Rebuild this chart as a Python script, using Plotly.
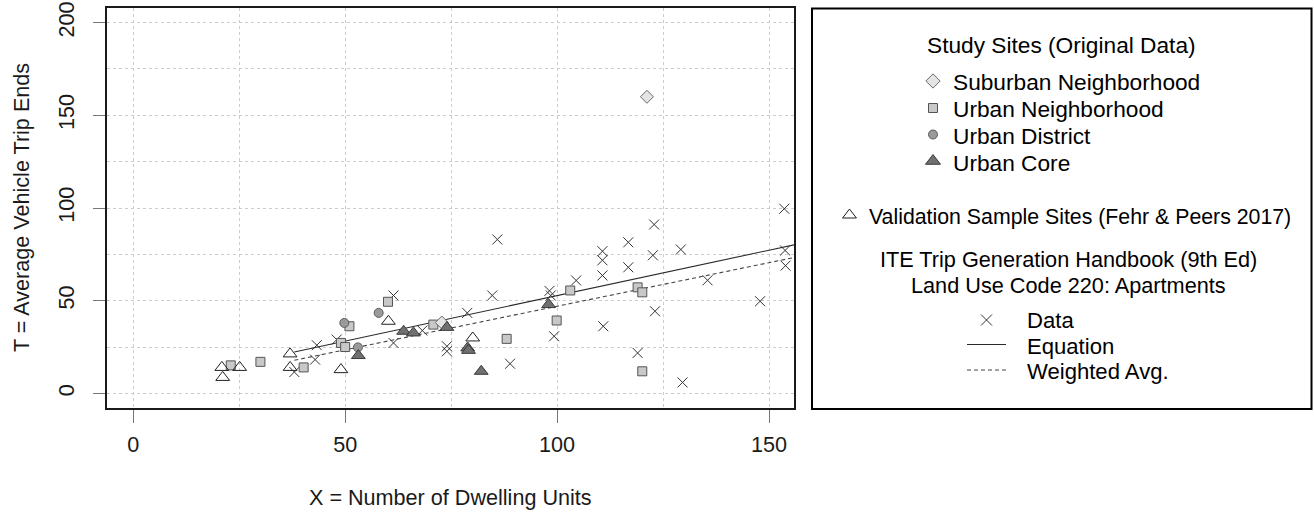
import plotly.graph_objects as go

# ---------------- data ----------------
# ITE Trip Generation Handbook data points (X = dwelling units, T = trips)
ite_x = [38.0, 43.3, 42.9, 48.0, 61.4, 61.4, 68.2, 74.0, 74.0, 78.8, 84.7, 85.9,
         88.9, 98.2, 98.5, 99.3, 104.5, 110.7, 110.7, 110.7, 110.9, 116.8, 116.8,
         119.0, 122.9, 122.6, 123.1, 129.2, 129.6, 135.5, 147.9, 153.6, 153.8, 153.9]
ite_y = [11.5, 26.0, 18.2, 29.0, 52.8, 27.2, 33.9, 25.4, 22.7, 43.4, 52.8, 83.0,
         16.0, 55.3, 52.8, 30.8, 60.9, 76.7, 71.8, 63.6, 36.2, 81.5, 68.0,
         21.8, 91.1, 74.5, 44.3, 77.6, 5.9, 61.0, 49.7, 99.6, 77.1, 68.9]

# Study sites
sub_x = [72.8, 121.2]
sub_y = [38.2, 160.0]
un_x = [23.0, 30.0, 40.2, 49.0, 50.0, 51.0, 60.1, 70.8, 88.1, 99.9, 103.1, 119.0, 120.1, 120.1]
un_y = [15.1, 17.0, 14.0, 27.2, 25.0, 36.2, 49.4, 37.1, 29.4, 39.3, 55.5, 57.2, 54.5, 11.9]
ud_x = [49.8, 53.0, 57.9]
ud_y = [38.0, 24.8, 43.4]
uc_x = [53.1, 63.8, 66.1, 74.0, 78.9, 79.1, 82.1, 98.0]
uc_y = [20.4, 33.5, 32.6, 35.6, 24.5, 23.2, 11.9, 47.9]

# Validation sample sites (Fehr & Peers 2017)
val_x = [20.9, 21.1, 25.1, 37.0, 37.0, 49.0, 60.2, 80.1]
val_y = [14.0, 8.6, 14.0, 21.3, 14.0, 12.8, 38.9, 29.9]

# ITE fitted equation and weighted average rate
eq_slope, eq_intercept = 0.49, 3.73
wavg_rate = 0.47
line_x = [38, 160]

x_ticks = [0, 50, 100, 150]
y_ticks = [0, 50, 100, 150, 200]

# ---------------- layout constants ----------------
W, H = 1314, 514
PL, PR, PT, PB = 107, 794, 8, 408
FONT = "Liberation Sans, Arial, sans-serif"
FS = 21.6

C_CROSS = "#333333"
C_SQ = "#c8c8c8"
C_CIR = "#9a9a9a"
C_CORE = "#707070"
C_DIA = "#e4e4e4"

MK_CROSS = dict(symbol="x-thin-open", size=10, color=C_CROSS, line=dict(color=C_CROSS, width=1))
MK_SQ = dict(symbol="square", size=9, color=C_SQ, line=dict(color="#555555", width=1))
MK_DIA = dict(symbol="diamond", size=10, color=C_DIA, line=dict(color="#6a6a6a", width=1))
MK_CIR = dict(symbol="circle", size=9, color=C_CIR, line=dict(color="#5a5a5a", width=1))
MK_CORE = dict(symbol="triangle-up", size=12, color=C_CORE, line=dict(color="#3a3a3a", width=1))
MK_VAL = dict(symbol="triangle-up-open", size=12, color="#222222", line=dict(color="#222222", width=1))

fig = go.Figure()

# ---------------- main plot ----------------
fig.add_trace(go.Scatter(x=ite_x, y=ite_y, mode="markers", marker=MK_CROSS))
fig.add_trace(go.Scatter(x=line_x, y=[eq_slope * v + eq_intercept for v in line_x],
                         mode="lines", line=dict(color="#2a2a2a", width=1.1)))
fig.add_trace(go.Scatter(x=line_x, y=[wavg_rate * v for v in line_x],
                         mode="lines", line=dict(color="#444444", width=1.1, dash="4px,3px")))
fig.add_trace(go.Scatter(x=un_x, y=un_y, mode="markers", marker=MK_SQ))
fig.add_trace(go.Scatter(x=sub_x, y=sub_y, mode="markers", marker=MK_DIA))
fig.add_trace(go.Scatter(x=ud_x, y=ud_y, mode="markers", marker=MK_CIR))
fig.add_trace(go.Scatter(x=uc_x, y=uc_y, mode="markers", marker=MK_CORE))
fig.add_trace(go.Scatter(x=val_x, y=val_y, mode="markers", marker=MK_VAL))

grid = dict(gridcolor="#cccccc", griddash="dot", gridwidth=1)
axis_common = dict(showline=True, mirror=True, linecolor="#1a1a1a", linewidth=1.5,
                   ticks="outside", tickcolor="#777777", tickwidth=1,
                   zeroline=False, showgrid=True, automargin=False, **grid,
                   tickfont=dict(family=FONT, size=FS, color="#1a1a1a"))

fig.update_layout(
    width=W, height=H, margin=dict(l=0, r=0, t=0, b=0, pad=0, autoexpand=False),
    paper_bgcolor="white", plot_bgcolor="rgba(0,0,0,0)", showlegend=False,
    font=dict(family=FONT, size=FS, color="#1a1a1a"),
    xaxis=dict(domain=[PL / W, PR / W], range=[-6.2, 155.9], tickmode="array",
               tickvals=x_ticks, ticktext=[str(v) for v in x_ticks], ticklen=13,
               ticklabelstandoff=3,
               minor=dict(tickmode="linear", tick0=0, dtick=25, showgrid=True, **grid),
               **axis_common),
    yaxis=dict(domain=[1 - PB / H, 1 - PT / H], range=[-7.9, 207.9], tickmode="array",
               tickvals=y_ticks, ticktext=[str(v) for v in y_ticks], ticklen=12,
               tickangle=-90, ticklabelstandoff=11,
               minor=dict(tickmode="linear", tick0=0, dtick=25, showgrid=True, **grid),
               **axis_common),
    # pixel-coordinate overlay axes used for the hand-built legend
    xaxis2=dict(domain=[0, 1], range=[0, W], visible=False, anchor="y2",
                fixedrange=True, automargin=False),
    yaxis2=dict(domain=[0, 1], range=[H, 0], visible=False, anchor="x2",
                fixedrange=True, automargin=False),
)

# axis titles
fig.add_annotation(text="X = Number of Dwelling Units", xref="paper", yref="paper",
                   x=(PL + PR) / 2 / W, y=1 - 497 / H, xanchor="center", yanchor="middle",
                   showarrow=False, font=dict(family=FONT, size=FS, color="#1a1a1a"))
fig.add_annotation(text="T = Average Vehicle Trip Ends", xref="paper", yref="paper",
                   x=21 / W, y=1 - (PT + PB) / 2 / H, xanchor="center", yanchor="middle",
                   textangle=-90, showarrow=False,
                   font=dict(family=FONT, size=FS, color="#1a1a1a"))

# ---------------- legend (built in pixel coordinates) ----------------
fig.add_shape(type="rect", xref="x2", yref="y2", x0=812, x1=1311.5, y0=8.5, y1=409,
              line=dict(color="#000000", width=2), fillcolor="rgba(0,0,0,0)")

def leg_text(txt, x, y, size, anchor="left"):
    fig.add_annotation(text=txt, xref="x2", yref="y2", x=x, y=y, xanchor=anchor,
                       yanchor="middle", showarrow=False,
                       font=dict(family=FONT, size=size, color="#000000"))

def leg_marker(x, y, mk):
    fig.add_trace(go.Scatter(x=[x], y=[y], xaxis="x2", yaxis="y2", mode="markers",
                             marker=mk, hoverinfo="skip", cliponaxis=False))

S1, S2, S3, S4 = 22.7, 21.3, 21.7, 22.1
leg_text("Study Sites (Original Data)", 1061, 45, S1, "center")
leg_marker(933, 81, dict(MK_DIA, size=11))
leg_text("Suburban Neighborhood", 951, 81.5, S1)
leg_marker(933, 108, MK_SQ)
leg_text("Urban Neighborhood", 951, 108.5, S1)
leg_marker(933, 134.5, MK_CIR)
leg_text("Urban District", 951, 135.5, S1)
leg_marker(933, 161, dict(MK_CORE, size=13))
leg_text("Urban Core", 951, 162.5, S1)

leg_marker(849.5, 215, MK_VAL)
leg_text("Validation Sample Sites (Fehr & Peers 2017)", 867, 216.5, S2)

leg_text("ITE Trip Generation Handbook (9th Ed)", 1068, 259.5, S3, "center")
leg_text("Land Use Code 220: Apartments", 1068, 285.5, S3, "center")

leg_marker(986.5, 320, dict(MK_CROSS, size=11))
leg_text("Data", 1025, 320.5, S4)
fig.add_trace(go.Scatter(x=[967, 1006], y=[344.5, 344.5], xaxis="x2", yaxis="y2", mode="lines",
                         line=dict(color="#2a2a2a", width=1.1), hoverinfo="skip"))
leg_text("Equation", 1025, 346, S4)
fig.add_trace(go.Scatter(x=[967, 1006], y=[370, 370], xaxis="x2", yaxis="y2", mode="lines",
                         line=dict(color="#444444", width=1.1, dash="4px,3px"), hoverinfo="skip"))
leg_text("Weighted Avg.", 1025, 371, S4)

fig.write_html("out.html", config={"displayModeBar": False},
               post_script="document.documentElement.style.margin='0';"
                           "document.body.style.margin='0';"
                           "document.body.style.overflow='hidden';")
